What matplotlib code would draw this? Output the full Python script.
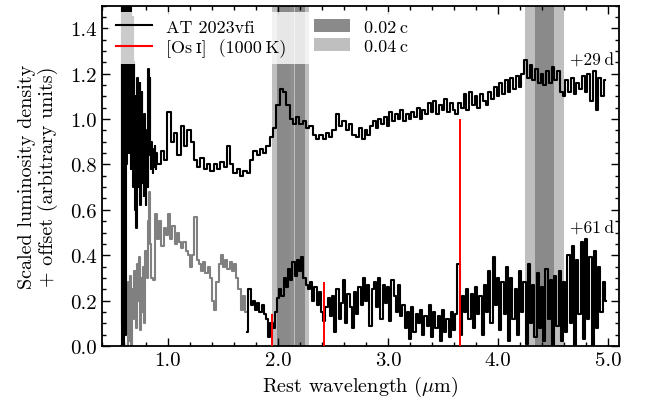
import numpy as np
import matplotlib
matplotlib.use("Agg")
import matplotlib.pyplot as plt
from matplotlib.lines import Line2D
from matplotlib.patches import Patch
from matplotlib.ticker import MultipleLocator

plt.rcParams['font.family'] = ['cmr10', 'DejaVu Serif']
plt.rcParams['mathtext.fontset'] = 'cm'
plt.rcParams['axes.unicode_minus'] = False
plt.rcParams['axes.formatter.use_mathtext'] = False

# ---------------- data ----------------
# +29 d spectrum (offset): sampled in three segments (start, step, values)
up_a_start, up_a_step = 0.575, 0.005
up_a = [0.00, 1.60, 0.10, 1.60, 0.00, 1.60, 0.40, 1.60, 0.05, 1.60,
        0.80, 1.60, 0.95, 1.60, 0.85, 1.55, 1.00, 1.50, 0.78, 1.40,
        0.90, 1.45, 0.70, 1.25, 0.85, 1.10, 0.60, 1.05, 0.52, 0.95,
        1.18, 0.70, 1.10, 0.80, 1.16, 0.62, 1.05, 0.90, 1.12, 0.72,
        0.98, 0.66, 1.02, 0.80, 0.95, 0.62, 0.88, 0.75, 0.92, 0.70,
        1.22, 0.95, 1.18, 0.84, 0.78, 0.90, 0.80, 0.87, 0.76, 0.84,
        0.79, 0.88, 0.82, 0.78, 0.85, 0.80]
up_b_start, up_b_step = 0.92, 0.03
up_b = [0.80, 0.86, 0.82, 1.03, 0.90, 0.94, 0.84, 0.97, 0.88, 0.95,
        0.90, 0.82, 0.79, 0.83, 0.78, 0.80, 0.77, 0.80, 0.78, 0.81,
        0.79, 0.88, 0.80, 0.76, 0.78, 0.75, 0.77, 0.76, 0.82, 0.86,
        0.84, 0.87, 0.85, 0.88, 0.92, 0.96, 1.06, 1.13, 1.12, 1.06,
        1.00, 0.98, 1.01, 0.98, 0.99, 0.96, 0.97, 0.93, 0.91, 0.93,
        0.91, 0.94, 0.92, 0.95, 1.02, 0.97, 0.99, 0.95, 0.98, 0.93]
up_c_start, up_c_step = 2.725, 0.025
up_c = [0.92, 0.96, 0.91, 0.95, 0.93, 0.97, 0.99, 0.96, 1.00, 0.98,
        1.01, 0.97, 1.03, 0.99, 1.02, 1.00, 1.04, 0.99, 1.02, 1.00,
        1.03, 1.01, 1.05, 1.00, 1.04, 1.02, 1.07, 1.03, 1.08, 1.02,
        1.06, 1.04, 1.09, 1.03, 1.07, 1.04, 1.02, 1.07, 1.05, 1.11,
        1.04, 1.12, 1.06, 1.10, 1.05, 1.11, 1.08, 1.06, 1.12, 1.09,
        1.14, 1.10, 1.16, 1.11, 1.17, 1.12, 1.18, 1.13, 1.19, 1.14,
        1.20, 1.26, 1.18, 1.24, 1.17, 1.22, 1.16, 1.20, 1.15, 1.21,
        1.16, 1.23, 1.17, 1.21, 1.12, 1.10, 1.17, 1.12, 1.18, 1.11,
        1.16, 1.13, 1.19, 1.12, 1.20, 1.08, 1.21, 1.04, 1.18, 1.10, 1.17]

# +61 d spectrum: low-quality blue end (gray), two sampling segments
lo_ga_start, lo_ga_step = 0.63, 0.01
lo_ga = [0.00, 0.28, 0.02, 0.31, 0.00, 0.25, 0.12, 0.33, 0.08, 0.36,
         0.20, 0.39, 0.07, 0.30, 0.15, 0.35, 0.10, 0.42, 0.30, 0.55,
         0.68, 0.45, 0.30]
lo_gb_start, lo_gb_step = 0.87, 0.02
lo_gb = [0.29, 0.58, 0.47, 0.55, 0.44, 0.52, 0.49, 0.58, 0.47, 0.53,
         0.45, 0.50, 0.46, 0.43, 0.46, 0.42, 0.40, 0.35, 0.40, 0.57,
         0.38, 0.36, 0.33, 0.37, 0.32, 0.35, 0.30, 0.20, 0.16, 0.28,
         0.36, 0.40, 0.35, 0.38, 0.34, 0.37, 0.33, 0.36, 0.30, 0.25,
         0.16, 0.22, 0.15]
# +61 d spectrum: main part (black)
lo_black_start, lo_black_step = 1.72, 0.02
lo_black = [0.06, 0.25, 0.18, 0.20, 0.16, 0.19, 0.15, 0.18, 0.14, 0.12,
            0.04, 0.10, 0.08, 0.15, 0.21, 0.25, 0.22, 0.30, 0.26, 0.34,
            0.29, 0.37, 0.31, 0.38, 0.33, 0.39, 0.30, 0.27, 0.25, 0.28,
            0.20, 0.26, 0.18, 0.24, 0.15, 0.11, 0.17, 0.21, 0.13, 0.22,
            0.06, 0.25, 0.12, 0.19, 0.29, 0.10, 0.23, 0.17, 0.08, 0.24,
            0.14, 0.26, 0.18, 0.30, 0.20, 0.27, 0.09, 0.25, 0.28, 0.17,
            0.30, 0.12, 0.27, 0.19, 0.26, 0.11, 0.29, 0.22, 0.15, 0.27,
            0.13, 0.18, 0.08, 0.15, 0.03, 0.17, 0.06, 0.14, 0.10, 0.16,
            0.05, 0.13, 0.09, 0.18, 0.04, 0.15, 0.08, 0.13, 0.02, 0.16,
            0.06, 0.12, 0.04, 0.15, 0.07, 0.14, 0.36, 0.05, 0.22, 0.15,
            0.25, 0.12, 0.23, 0.08, 0.26, 0.14, 0.22, 0.05, 0.27, 0.15,
            0.33, 0.10, 0.39, 0.18, 0.30, 0.07, 0.28, 0.14, 0.35, 0.02,
            0.30, 0.12, 0.25, 0.05, 0.33, 0.15, 0.28, 0.01, 0.36, 0.10,
            0.27, 0.04, 0.32, 0.08, 0.26, 0.02, 0.34, 0.12, 0.29, 0.00,
            0.31, 0.09, 0.33, 0.02, 0.28, 0.06, 0.40, 0.10, 0.44, 0.00,
            0.38, 0.14, 0.46, 0.03, 0.47, 0.12, 0.39, 0.00, 0.42, 0.08,
            0.35, 0.15, 0.28, 0.20]

# [Os I] (1000 K) model lines
os_wave = [1.949, 2.415, 3.658]
os_height = [0.14, 0.28, 1.00]

# velocity-broadened feature ranges (micron) and velocities (fraction of c)
feat_lo = [2.030, 2.198, 4.424]
feat_hi = [2.065, 2.198, 4.424]
v_narrow = 0.02
v_wide = 0.04

epoch_labels = ["+29\u2009d", "+61\u2009d"]
epoch_label_y = [1.26, 0.52]


def build(*segs):
    lam, val = [], []
    for start, step, vals in segs:
        lam.append(start + step * np.arange(len(vals)))
        val.append(np.asarray(vals, float))
    return np.concatenate(lam), np.concatenate(val)


# ---------------- figure ----------------
fig = plt.figure(figsize=(6.46, 4.14), dpi=100)
ax = fig.add_axes([102 / 646, 1 - 347 / 414, 517 / 646, 340.5 / 414])

c_dark = '#8a8a8a'
c_light = (0, 0, 0, 0.25)
for lo, hi in zip(feat_lo, feat_hi):
    ax.axvspan(lo * (1 - v_wide), hi * (1 + v_wide), facecolor=c_light, lw=0, zorder=0)
for lo, hi in zip(feat_lo, feat_hi):
    ax.axvspan(lo * (1 - v_narrow), hi * (1 + v_narrow), facecolor=c_dark, lw=0, zorder=0.5)

lw = 1.5
x, y = build((lo_ga_start, lo_ga_step, lo_ga), (lo_gb_start, lo_gb_step, lo_gb))
ax.plot(x, y, color='#808080', lw=lw, drawstyle='steps-mid', zorder=2)
x, y = build((lo_black_start, lo_black_step, lo_black))
ax.plot(x, y, color='k', lw=lw, drawstyle='steps-mid', zorder=3)
x, y = build((up_a_start, up_a_step, up_a), (up_b_start, up_b_step, up_b),
             (up_c_start, up_c_step, up_c))
ax.plot(x, y, color='k', lw=lw, drawstyle='steps-mid', zorder=3)

ax.vlines(os_wave, 0, os_height, color='red', lw=1.4, zorder=4)

for lab, yy in zip(epoch_labels, epoch_label_y):
    ax.text(0.99, yy, lab, transform=ax.get_yaxis_transform(), ha='right',
            va='center', fontsize=12.5, zorder=5)

ax.set_xlim(0.4, 5.1)
ax.set_ylim(0.0, 1.5)
ax.xaxis.set_major_locator(MultipleLocator(1.0))
ax.xaxis.set_minor_locator(MultipleLocator(0.2))
ax.yaxis.set_major_locator(MultipleLocator(0.2))
ax.yaxis.set_minor_locator(MultipleLocator(0.05))
ax.xaxis.set_major_formatter(plt.FormatStrFormatter('%.1f'))
ax.yaxis.set_major_formatter(plt.FormatStrFormatter('%.1f'))
ax.tick_params(which='both', direction='in', top=True, right=True, width=1.0,
               labelsize=15)
ax.tick_params(which='major', length=6)
ax.tick_params(which='minor', length=3)
for sp in ax.spines.values():
    sp.set_linewidth(1.3)

ax.set_xlabel(r"Rest wavelength ($\mu$m)", fontsize=14.5)
ax.set_ylabel("Scaled luminosity density\n+ offset (arbitrary units)", fontsize=14.5,
              linespacing=1.1)
ax.yaxis.set_label_coords(-0.086, 0.5)

handles = [Line2D([], [], color='k', lw=1.5),
           Line2D([], [], color='red', lw=1.5),
           Patch(facecolor=c_dark, edgecolor='none'),
           Patch(facecolor=c_light, edgecolor='none')]
labels = ["AT 2023vfi", "[Os\u2009\u026a]  (1000\u2009K)", "0.02\u2009c", "0.04\u2009c"]
leg = ax.legend(handles, labels, ncol=2, loc='upper left', fontsize=13,
                frameon=True, framealpha=0.8, edgecolor='none', fancybox=False,
                borderaxespad=0.35, handlelength=2.0, handletextpad=0.8,
                columnspacing=1.5, labelspacing=0.2)
leg.set_zorder(10)

fig.savefig("out.png", dpi=100)
